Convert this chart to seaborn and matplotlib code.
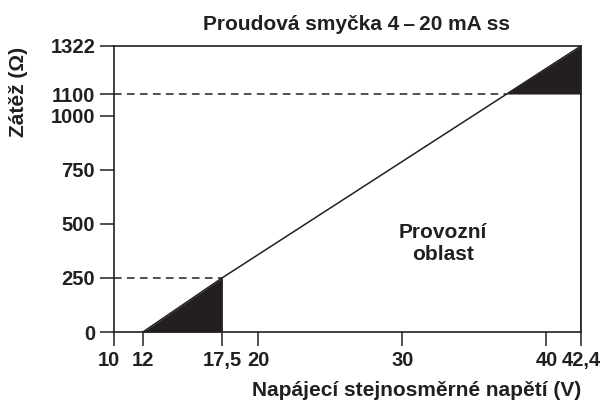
import numpy as np
import pandas as pd
import matplotlib
matplotlib.use("Agg")
import matplotlib.pyplot as plt
import matplotlib.transforms as mtransforms
import seaborn as sns

# data
napeti = [12, 17.5, 42.4]          # supply voltage (V) along the load line
zatez = [0, 250, 1322]             # load (ohm)
dolni_v = [12, 17.5]               # lower shaded triangle
dolni_r = [0, 250]
horni_v = [37.2, 42.4]             # upper shaded triangle
horni_r = [1100, 1322]
x_ticks = [10, 12, 17.5, 20, 30, 40, 42.4]
x_labels = ["10", "12", "17,5", "20", "30", "40", "42,4"]
y_ticks = [0, 250, 500, 750, 1000, 1100, 1322]
y_labels = ["0", "250", "500", "750", "1000", "1100", "1322"]

ink = "#231f20"

sns.set_theme(style="white")
plt.rcParams['font.family'] = ['Liberation Sans', 'DejaVu Sans']
plt.rcParams['font.weight'] = 'bold'
plt.rcParams['text.color'] = ink

fig = plt.figure(figsize=(6.06, 4.01), dpi=100)
ax = fig.add_axes([0.1881, 0.172, 0.7706, 0.7133])

line_df = pd.DataFrame({"napeti": napeti, "zatez": zatez})
sns.lineplot(data=line_df, x="napeti", y="zatez", ax=ax, color=ink, lw=1.1)

ax.fill_between(dolni_v, dolni_r, 0, color=ink, lw=0)
ax.fill_between(horni_v, horni_r, 1100, color=ink, lw=0)
ax.plot([dolni_v[1], dolni_v[1]], [0, 250], color=ink, lw=1.1)
ax.plot([horni_v[1], horni_v[1]], [0, 1100], color=ink, lw=1.1)

# dashed guide lines
ax.plot([10, dolni_v[1]], [250, 250], color=ink, lw=1.1, dashes=(5, 3.5))
ax.plot([10, horni_v[0]], [1100, 1100], color=ink, lw=1.1, dashes=(5, 3.5))

ax.text(32.8, 407, "Provozní\noblast", ha="center", va="center",
        fontsize=15, fontweight="bold", color=ink, linespacing=1.2)

ax.set_xlim(10, 42.4)
ax.set_ylim(0, 1322)
ax.set_xticks(x_ticks)
ax.set_xticklabels(x_labels)
ax.set_yticks(y_ticks)
ax.set_yticklabels(y_labels)
ax.tick_params(bottom=True, left=True, direction="out", length=10,
               width=1.1, color=ink, labelsize=14.5, labelcolor=ink, pad=3.5)
ax.tick_params(axis="x", pad=4)
for lbl in ax.get_xticklabels() + ax.get_yticklabels():
    lbl.set_fontweight("bold")

# nudge the crowded "10" label a bit to the left
shift = mtransforms.ScaledTranslation(-5 / 100, 0, fig.dpi_scale_trans)
first = ax.get_xticklabels()[0]
first.set_transform(first.get_transform() + shift)

for s in ax.spines.values():
    s.set_color(ink)
    s.set_linewidth(1.2)

ax.set_xlabel("Napájecí stejnosměrné napětí (V)", fontsize=15,
              fontweight="bold", color=ink, ha="right")
ax.xaxis.set_label_coords(1.0, -0.17)
ax.set_ylabel("Zátěž (Ω)", fontsize=15, fontweight="bold", color=ink)
ax.yaxis.set_label_coords(-0.184, 0.84)

ax.set_title("Proudová smyčka 4\u2009\u2013\u200920 mA ss", fontsize=15,
             fontweight="bold", color=ink, x=0.52, pad=11.5)

fig.savefig("out.png", dpi=100)
